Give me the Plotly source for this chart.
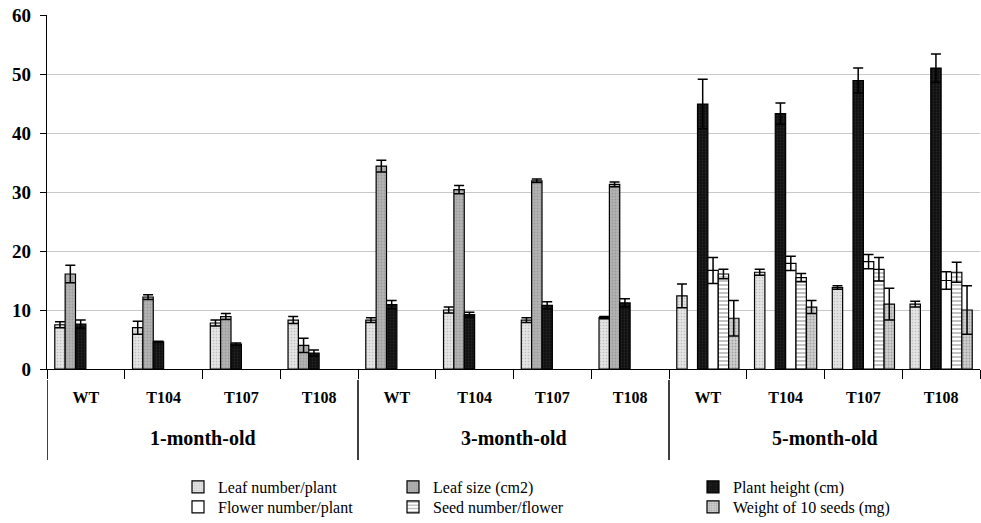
import plotly.graph_objects as go

# ---- data ----
ages = ["1-month-old", "3-month-old", "5-month-old"]
lines = ["WT", "T104", "T107", "T108"]

leaf_number = [7.5, 7.0, 7.8, 8.3, 8.3, 10.0, 8.3, 8.7, 12.4, 16.4, 13.8, 11.0]
leaf_number_err = [0.5, 1.1, 0.5, 0.6, 0.4, 0.5, 0.4, 0.2, 2.0, 0.5, 0.3, 0.5]

leaf_size = [16.1, 12.2, 8.9, 4.0, 34.4, 30.4, 31.9, 31.3, None, None, None, None]
leaf_size_err = [1.5, 0.4, 0.5, 1.2, 1.0, 0.7, 0.3, 0.4, None, None, None, None]

plant_height = [7.6, 4.6, 4.2, 2.7, 10.9, 9.2, 10.8, 11.2, 44.9, 43.3, 48.9, 51.0]
plant_height_err = [0.7, 0.1, 0.2, 0.5, 0.7, 0.4, 0.6, 0.7, 4.2, 1.8, 2.1, 2.4]

flower_number = [None] * 8 + [16.7, 17.9, 18.2, 15.0]
flower_number_err = [None] * 8 + [2.2, 1.2, 1.2, 1.5]

seed_number = [None] * 8 + [16.1, 15.5, 16.9, 16.4]
seed_number_err = [None] * 8 + [0.8, 0.7, 2.0, 1.7]

seed_weight = [None] * 8 + [8.6, 10.5, 11.0, 10.0]
seed_weight_err = [None] * 8 + [3.0, 1.1, 2.7, 4.1]

y_ticks = [0, 10, 20, 30, 40, 50, 60]

# ---- layout helpers ----
FONT = "Liberation Serif"
W, H = 981, 523
n = len(ages) * len(lines)
xpos = list(range(n))
ticktext = [l for _ in ages for l in lines]

# (name, values, errors, marker, legend id, legend symbol x px, legend row y px)
series = [
    ("Leaf number/plant", leaf_number, leaf_number_err,
     dict(color="#e4e4e4", pattern=dict(shape=".", fgcolor="#9a9a9a", size=3, solidity=0.25, fillmode="overlay")),
     "legend", 192, 487),
    ("Leaf size (cm2)", leaf_size, leaf_size_err,
     dict(color="#b4b4b4", pattern=dict(shape=".", fgcolor="#808080", size=3, solidity=0.3, fillmode="overlay")),
     "legend2", 407, 487),
    ("Plant height (cm)", plant_height, plant_height_err,
     dict(color="#101010", pattern=dict(shape=".", fgcolor="#3a3a3a", size=3, solidity=0.3, fillmode="overlay")),
     "legend3", 707, 487),
    ("Flower number/plant", flower_number, flower_number_err,
     dict(color="#ffffff"),
     "legend4", 192, 507),
    ("Seed number/flower", seed_number, seed_number_err,
     dict(color="#ffffff", pattern=dict(shape="-", fgcolor="#333333", size=4, solidity=0.3, fillmode="overlay")),
     "legend5", 407, 507),
    ("Weight of 10 seeds (mg)", seed_weight, seed_weight_err,
     dict(color="#cfcfcf", pattern=dict(shape=".", fgcolor="#707070", size=3, solidity=0.3, fillmode="overlay")),
     "legend6", 707, 507),
]

fig = go.Figure()
legends = {}
for name, vals, errs, mk, lg, lx, ly in series:
    fig.add_trace(go.Bar(
        x=xpos, y=vals, name=name, legend=lg,
        marker=dict(**mk, line=dict(color="black", width=1.2)),
        error_y=dict(type="data", array=errs, visible=True, color="black", thickness=1.5, width=5),
    ))
    legends[lg] = dict(
        orientation="v", bgcolor="rgba(0,0,0,0)",
        font=dict(family=FONT, size=16, color="black"),
        xref="container", yref="container",
        x=(lx - 14) / W, y=1 - ly / H, xanchor="left", yanchor="middle",
        itemwidth=30, borderwidth=0,
    )

fig.update_layout(
    width=W, height=H,
    margin=dict(l=47, r=1, t=15, b=154, autoexpand=False),
    paper_bgcolor="white", plot_bgcolor="white",
    barmode="group", bargap=0.2, bargroupgap=0,
    font=dict(family=FONT, color="black"),
    showlegend=True,
    **legends,
)

fig.update_xaxes(
    range=[-0.5, n - 0.5],
    tickmode="array", tickvals=xpos, ticktext=[f"<b>{t}</b>" for t in ticktext],
    tickfont=dict(family=FONT, size=16, color="black"),
    ticks="", ticklabelstandoff=14, showgrid=False, zeroline=False,
    showline=True, linecolor="black", linewidth=1.2,
    minor=dict(tickmode="array", tickvals=[i - 0.5 for i in range(n + 1)], ticks="outside",
               ticklen=9, tickcolor="black", tickwidth=1.2, showgrid=False),
)
fig.update_yaxes(
    range=[0, 60], tickmode="array", tickvals=y_ticks,
    ticktext=[f"<b>{v}</b>" for v in y_ticks],
    tickfont=dict(family=FONT, size=19, color="black"),
    ticks="outside", ticklen=6, tickcolor="black", ticklabelstandoff=5,
    showline=True, linecolor="black", linewidth=1.2,
    showgrid=True, gridcolor="#c8c8c8", gridwidth=1.2, zeroline=False,
)

# group labels and dividers
for gi, age in enumerate(ages):
    center = gi * len(lines) + (len(lines) - 1) / 2
    fig.add_annotation(x=center, xref="x", y=-0.195, yref="paper", yanchor="middle",
                       text=f"<b>{age}</b>", showarrow=False,
                       font=dict(family=FONT, size=20, color="black"))
for gi in range(len(ages)):
    xb = gi * len(lines) - 0.5
    fig.add_shape(type="line", xref="x", yref="paper", x0=xb, x1=xb, y0=-0.031, y1=-0.257,
                  line=dict(color="black", width=1.5))

fig.write_html("out.html", post_script="document.body.style.margin='0';",
               config={"displayModeBar": False})
